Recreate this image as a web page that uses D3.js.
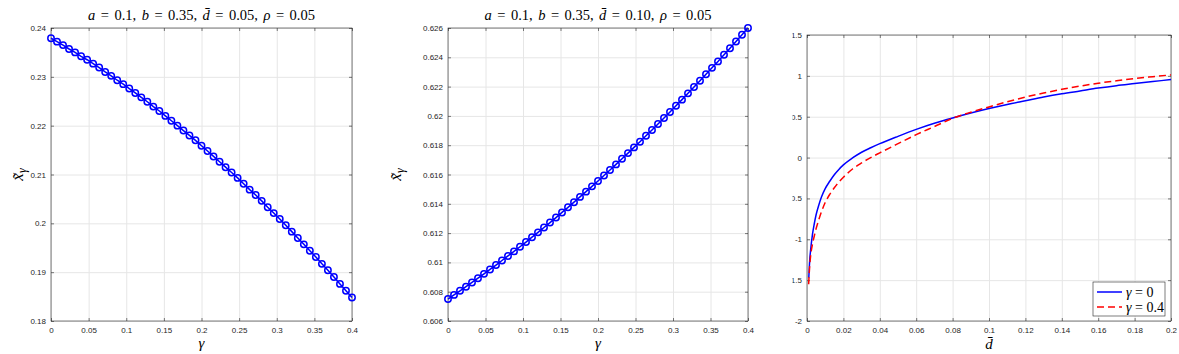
<!DOCTYPE html>
<html>
<head>
<meta charset="utf-8">
<script src="https://cdn.jsdelivr.net/npm/d3@7"></script>
<style>
body { margin: 0; background: #fff; }
svg { display: block; }
.tick text { font-family: "Liberation Sans", Arial, sans-serif; font-size: 8px; fill: #262626; }
</style>
</head>
<body>
<svg id="fig" width="1179" height="354"></svg>
<script>
// gamma grid, 0 : 0.008 : 0.4
const gammas = d3.range(51).map(i => +(i * 0.008).toFixed(3));

// panel 1: a=0.1, b=0.35, dbar=0.05, rho=0.05
const xTilde1 = [
    0.2379, 0.2372, 0.2365, 0.2357, 0.2350, 0.2342, 0.2335, 0.2327, 0.2319, 0.2310,
    0.2302, 0.2293, 0.2285, 0.2276, 0.2267, 0.2258, 0.2249, 0.2239, 0.2230, 0.2220,
    0.2210, 0.2200, 0.2190, 0.2180, 0.2170, 0.2159, 0.2148, 0.2137, 0.2126, 0.2115,
    0.2104, 0.2093, 0.2081, 0.2069, 0.2058, 0.2046, 0.2033, 0.2021, 0.2009, 0.1996,
    0.1983, 0.1970, 0.1957, 0.1944, 0.1931, 0.1917, 0.1904, 0.1890, 0.1876, 0.1862,
    0.1848
];

// panel 2: a=0.1, b=0.35, dbar=0.10, rho=0.05
const xTilde2 = [
    0.60750, 0.60778, 0.60806, 0.60834, 0.60863, 0.60892, 0.60922, 0.60952, 0.60982, 0.61013,
    0.61044, 0.61075, 0.61107, 0.61139, 0.61172, 0.61205, 0.61238, 0.61272, 0.61306, 0.61341,
    0.61376, 0.61411, 0.61447, 0.61483, 0.61519, 0.61556, 0.61593, 0.61631, 0.61669, 0.61707,
    0.61746, 0.61785, 0.61824, 0.61864, 0.61904, 0.61945, 0.61986, 0.62027, 0.62069, 0.62111,
    0.62154, 0.62197, 0.62240, 0.62284, 0.62328, 0.62372, 0.62417, 0.62462, 0.62508, 0.62554,
    0.62600
];

// panel 3: curves over dbar
const dBar0 = [0.001, 0.0015, 0.002, 0.003, 0.004, 0.005, 0.0065, 0.008, 0.01, 0.0125, 0.015, 0.0175,
    0.02, 0.025, 0.03, 0.035, 0.04, 0.05, 0.06, 0.07, 0.08, 0.09, 0.1, 0.11, 0.12, 0.13, 0.14,
    0.15, 0.16, 0.17, 0.18, 0.19, 0.2];
const curveG0 = [-1.47, -1.25, -1.13, -0.94, -0.81, -0.70, -0.58, -0.48, -0.38, -0.29, -0.21, -0.145,
    -0.09, -0.005, 0.065, 0.12, 0.17, 0.26, 0.345, 0.42, 0.485, 0.545, 0.60, 0.65, 0.695, 0.74, 0.78,
    0.815, 0.85, 0.88, 0.905, 0.93, 0.955];
const dBar04 = [0.0009, 0.0015, 0.002, 0.003, 0.004, 0.005, 0.0065, 0.008, 0.01, 0.0125, 0.015, 0.0175,
    0.02, 0.025, 0.03, 0.035, 0.04, 0.05, 0.06, 0.07, 0.08, 0.09, 0.1, 0.11, 0.12, 0.13, 0.14,
    0.15, 0.16, 0.17, 0.18, 0.19, 0.2];
const curveG04 = [-1.55, -1.32, -1.20, -1.06, -0.96, -0.87, -0.76, -0.66, -0.55, -0.45, -0.37, -0.30,
    -0.24, -0.14, -0.065, 0.00, 0.058, 0.17, 0.28, 0.38, 0.48, 0.555, 0.62, 0.683, 0.74, 0.79, 0.835,
    0.875, 0.91, 0.94, 0.967, 0.99, 1.012];

// ticks
const gammaTicks = [0, 0.05, 0.1, 0.15, 0.2, 0.25, 0.3, 0.35, 0.4];
const yTicks1 = [0.18, 0.19, 0.2, 0.21, 0.22, 0.23, 0.24];
const yTicks2 = [0.606, 0.608, 0.61, 0.612, 0.614, 0.616, 0.618, 0.62, 0.622, 0.624, 0.626];
const dTicks = [0, 0.02, 0.04, 0.06, 0.08, 0.1, 0.12, 0.14, 0.16, 0.18, 0.2];
const yTicks3 = [-2, -1.5, -1, -0.5, 0, 0.5, 1, 1.5];

const title1 = [["a", 1], [" = 0.1, ", 0], ["b", 1], [" = 0.35, ", 0], ["d\u0304", 1], [" = 0.05, ", 0], ["ρ", 1], [" = 0.05", 0]];
const title2 = [["a", 1], [" = 0.1, ", 0], ["b", 1], [" = 0.35, ", 0], ["d\u0304", 1], [" = 0.10, ", 0], ["ρ", 1], [" = 0.05", 0]];
const legendLabels = [[["γ", 1], [" = 0", 0]], [["γ", 1], [" = 0.4", 0]]];

const SERIF = "Liberation Serif";
const svg = d3.select("#fig");
const fmt = d => String(+d.toFixed(4));

function mathText(sel, parts) {
    sel.attr("font-family", SERIF).attr("fill", "#000");
    parts.forEach(p => {
        sel.append("tspan").attr("font-style", p[1] ? "italic" : "normal").text(p[0]);
    });
    return sel;
}

function drawAxes(g, x, y, xt, yt) {
    const [x0, x1] = x.range(), [y0, y1] = y.range();
    // grid lines
    g.append("g").attr("transform", `translate(0,${y0})`)
        .call(d3.axisBottom(x).tickValues(xt).tickSize(-(y0 - y1)).tickFormat(""))
        .call(s => s.select(".domain").remove())
        .selectAll("line").attr("stroke", "#e6e6e6");
    g.append("g").attr("transform", `translate(${x0},0)`)
        .call(d3.axisLeft(y).tickValues(yt).tickSize(-(x1 - x0)).tickFormat(""))
        .call(s => s.select(".domain").remove())
        .selectAll("line").attr("stroke", "#e6e6e6");

    // axes with inward ticks, mirrored on top/right
    const ax = [
        [d3.axisBottom(x).tickValues(xt).tickFormat(fmt), `translate(0,${y0})`],
        [d3.axisTop(x).tickValues(xt).tickFormat(""), `translate(0,${y1})`],
        [d3.axisLeft(y).tickValues(yt).tickFormat(fmt), `translate(${x0},0)`],
        [d3.axisRight(y).tickValues(yt).tickFormat(""), `translate(${x1},0)`]
    ];
    ax.forEach(([a, t], i) => {
        g.append("g").attr("transform", t)
            .call(a.tickSizeInner(-3).tickSizeOuter(0).tickPadding(i < 2 ? 6 : 5))
            .call(s => s.select(".domain").remove())
            .call(s => s.selectAll(".tick line").attr("stroke", "#262626").attr("stroke-width", 0.6))
            .call(s => s.selectAll(".tick text").attr("fill", "#262626"));
    });
    g.append("rect")
        .attr("x", x0).attr("y", y1).attr("width", x1 - x0).attr("height", y0 - y1)
        .attr("fill", "none").attr("stroke", "#262626").attr("stroke-width", 0.6);
}

function yLabel(g, cx, cy) {
    const t = g.append("text").attr("font-family", SERIF)
        .attr("transform", `translate(${cx},${cy}) rotate(-90)`)
        .attr("text-anchor", "middle").attr("font-size", 17);
    t.append("tspan").attr("font-style", "italic").text("x\u0303");
    t.append("tspan").attr("font-style", "italic").attr("font-size", 12).attr("dy", 3).text("γ");
}

function markerPanel(left, right, vals, yDomain, yt, title, yLabX) {
    const g = svg.append("g");
    const x = d3.scaleLinear().domain([0, 0.4]).range([left, right]);
    const y = d3.scaleLinear().domain(yDomain).range([321, 28]);
    drawAxes(g, x, y, gammaTicks, yt);

    const pts = gammas.map((gm, i) => [gm, vals[i]]);
    g.append("path").datum(pts)
        .attr("fill", "none").attr("stroke", "#0000ff").attr("stroke-width", 1.5)
        .attr("d", d3.line().x(d => x(d[0])).y(d => y(d[1])));
    g.selectAll("circle.m").data(pts).enter().append("circle")
        .attr("class", "m")
        .attr("cx", d => x(d[0])).attr("cy", d => y(d[1])).attr("r", 3.2)
        .attr("fill", "none").attr("stroke", "#0000ff").attr("stroke-width", 1.5);

    const t = mathText(g.append("text")
        .attr("x", (left + right) / 2).attr("y", 20)
        .attr("text-anchor", "middle").attr("font-size", 14.5), title);
    // stretch inter-word spacing to the LaTeX title width
    const spaces = title.reduce((n, p) => n + (p[0].match(/ /g) || []).length, 0);
    const len = t.node().getComputedTextLength();
    t.attr("word-spacing", Math.max(0, (227 - len) / spaces));

    g.append("text").attr("font-family", SERIF)
        .attr("x", (left + right) / 2).attr("y", 348)
        .attr("text-anchor", "middle").attr("font-size", 15).attr("font-style", "italic").text("γ");
    yLabel(g, yLabX, 174.5);
}

markerPanel(51, 352, xTilde1, [0.18, 0.24], yTicks1, title1, 23);
markerPanel(448, 748, xTilde2, [0.606, 0.626], yTicks2, title2, 401);

// panel 3
svg.append("defs").append("clipPath").attr("id", "clip3")
    .append("rect").attr("x", 792.5).attr("y", 0).attr("width", 387).attr("height", 354);
const g3 = svg.append("g").attr("clip-path", "url(#clip3)");
const x3 = d3.scaleLinear().domain([0, 0.2]).range([807, 1171]);
const y3 = d3.scaleLinear().domain([-2, 1.5]).range([321, 35]);
drawAxes(g3, x3, y3, dTicks, yTicks3);

const line3 = d3.line().x(d => x3(d[0])).y(d => y3(d[1])).curve(d3.curveMonotoneX);
g3.append("path").datum(dBar0.map((d, i) => [d, curveG0[i]]))
    .attr("fill", "none").attr("stroke", "#0000ff").attr("stroke-width", 1.5).attr("d", line3);
g3.append("path").datum(dBar04.map((d, i) => [d, curveG04[i]]))
    .attr("fill", "none").attr("stroke", "#ff0000").attr("stroke-width", 1.5)
    .attr("stroke-dasharray", "7,4").attr("d", line3);

g3.append("text").attr("font-family", SERIF)
    .attr("x", (807 + 1171) / 2).attr("y", 349)
    .attr("text-anchor", "middle").attr("font-size", 15).attr("font-style", "italic").text("d\u0304");

// legend
const leg = g3.append("g").attr("transform", `translate(${x3.range()[1] - 78},${y3.range()[0] - 39})`);
leg.append("rect").attr("width", 72).attr("height", 34)
    .attr("fill", "#fff").attr("stroke", "#262626").attr("stroke-width", 0.6);
[["#0000ff", null], ["#ff0000", "7,4"]].forEach(([c, dash], i) => {
    const row = leg.append("g").attr("transform", `translate(0,${10 + i * 15})`);
    row.append("line").attr("x1", 4).attr("x2", 29)
        .attr("stroke", c).attr("stroke-width", 1.5).attr("stroke-dasharray", dash);
    mathText(row.append("text").attr("x", 33).attr("y", 4.5).attr("font-size", 14), legendLabels[i]);
});
</script>
</body>
</html>
